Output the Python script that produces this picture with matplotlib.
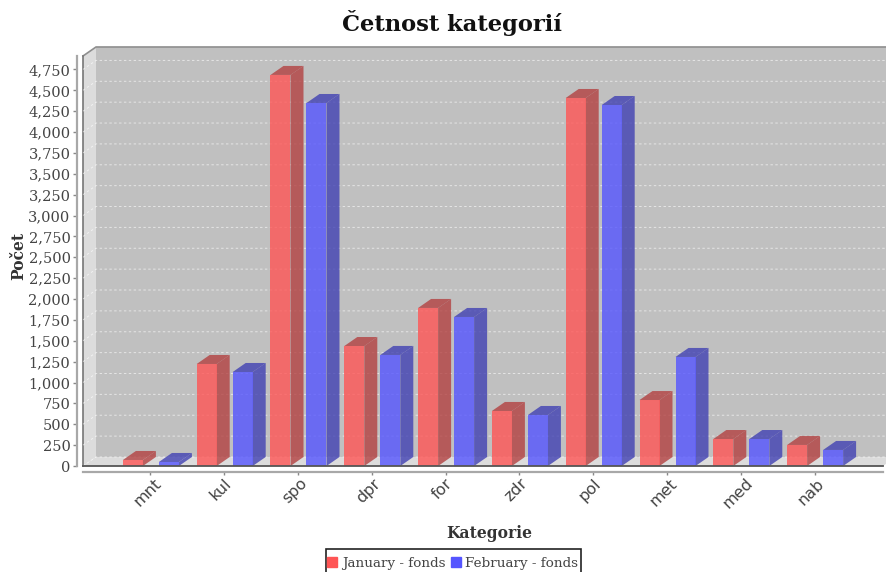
import matplotlib
matplotlib.use("Agg")
import matplotlib.pyplot as plt
from matplotlib.patches import Patch, Polygon, Rectangle
from matplotlib.transforms import ScaledTranslation

categories = ["mnt", "kul", "spo", "dpr", "for", "zdr", "pol", "met", "med", "nab"]
january = [72, 1222, 4684, 1437, 1893, 659, 4408, 790, 323, 252]
february = [48, 1126, 4348, 1330, 1785, 611, 4324, 1306, 323, 192]
y_ticks = list(range(0, 5000, 250))

W, H = 886, 572
# 3d depth, x in category units, y in value units (13px right, 9px up)
DX = 13 / 73.8
DY = 108
BAR_W = 20 / 73.8
OFFSET = 18 / 73.8
XMIN, XMAX = -0.912, 9.928
YMAX = 4911

plt.rcParams["font.family"] = "DejaVu Serif"
fig = plt.figure(figsize=(W / 100, H / 100), dpi=100)
ax = fig.add_axes([83 / W, (H - 466) / H, 800 / W, 410 / H])
ax.set_xlim(XMIN, XMAX)
ax.set_ylim(0, YMAX)
ax.patch.set_visible(False)


def face(points, color, z, alpha=1.0):
    ax.add_patch(Polygon(points, closed=True, facecolor=color, edgecolor="none", lw=0,
                         alpha=alpha, zorder=z, clip_on=False))


# walls
face([(XMIN + DX, DY), (XMAX + DX, DY), (XMAX + DX, YMAX + DY), (XMIN + DX, YMAX + DY)], "#c0c0c0", 0)
face([(XMIN, 0), (XMIN + DX, DY), (XMIN + DX, YMAX + DY), (XMIN, YMAX)], "#dcdcdc", 0)
face([(XMIN, 0), (XMAX, 0), (XMAX + DX, DY), (XMIN + DX, DY)], "#dcdcdc", 0)
ax.plot([XMIN, XMIN + DX, XMAX + DX], [YMAX, YMAX + DY, YMAX + DY], color="#8f8f8f", lw=1.2, clip_on=False, zorder=1)
ax.plot([XMIN, XMIN], [0, YMAX], color="#777777", lw=1.2, clip_on=False, zorder=1)
ax.plot([XMIN, XMAX], [0, 0], color="#555555", lw=1.3, clip_on=False, zorder=6)

# grid on the back wall and left wall
for t in y_ticks:
    ax.plot([XMIN, XMIN + DX, XMAX + DX], [t, t + DY, t + DY], color="white", lw=0.7,
            ls=(0, (2.5, 2.5)), alpha=0.6, clip_on=False, zorder=1)


def bars(values, shift, front, dark):
    for i, v in enumerate(values):
        l = i + shift - BAR_W / 2
        r = l + BAR_W
        face([(r, 0), (r + DX, DY), (r + DX, v + DY), (r, v)], dark, 3, 0.8)
        face([(l, v), (r, v), (r + DX, v + DY), (l + DX, v + DY)], dark, 3, 0.8)
    ax.bar([i + shift for i in range(len(values))], values, width=BAR_W, color=front, alpha=0.8, zorder=4)


bars(january, -OFFSET + 0.008, "#ff5555", "#b34141")
bars(february, OFFSET + 0.008, "#5555ff", "#4141b3")

for s in ["top", "right"]:
    ax.spines[s].set_visible(False)
for s in ["left", "bottom"]:
    ax.spines[s].set_position(("outward", 4))
    ax.spines[s].set_color("#a8a8a8")
    ax.spines[s].set_linewidth(1.6)

ax.set_yticks(y_ticks)
ax.set_yticklabels([f"{t:,}" for t in y_ticks])
ax.tick_params(axis="y", length=3, width=1, color="#888888", labelsize=10.5, labelcolor="#444444", pad=2)
ax.set_xticks(range(len(categories)))
ax.set_xticklabels(categories, rotation=45, ha="center", family="DejaVu Sans")
ax.tick_params(axis="x", length=2, width=1, color="#888888", labelsize=11.5, labelcolor="#444444", pad=1)
shift = ScaledTranslation(-3 / 100, 0, fig.dpi_scale_trans)
for lab in ax.get_xticklabels():
    lab.set_transform(lab.get_transform() + shift)

fig.text(452.5 / W, 1 - 23 / H, "Četnost kategorií", ha="center", va="center", fontsize=16.3, fontweight="bold", color="#111111")
fig.text(18.5 / W, 1 - 256 / H, "Počet", rotation=90, ha="center", va="center", fontsize=11.2, fontweight="bold", color="#333333")
fig.text(489 / W, 1 - 533 / H, "Kategorie", ha="center", va="center", fontsize=11.2, fontweight="bold", color="#333333")

# legend box runs off the bottom of the picture
fig.add_artist(Rectangle((325.5 / W, -5 / H), 255 / W, (H - 549 + 5) / H, transform=fig.transFigure,
                         facecolor="white", edgecolor="#222222", lw=1.2))
handles = [Patch(color="#ff5555", label="January - fonds"), Patch(color="#5555ff", label="February - fonds")]
leg = fig.legend(handles=handles, loc="upper center", bbox_to_anchor=(453 / W, 1 - 548.5 / H), ncol=2, fontsize=9.7,
                 frameon=False, labelcolor="#444444",
                 handlelength=0.7, handleheight=0.7, handletextpad=0.35, columnspacing=0.45, borderpad=0.6, borderaxespad=0)
leg.set_zorder(5)

fig.savefig("out.png", dpi=100)
